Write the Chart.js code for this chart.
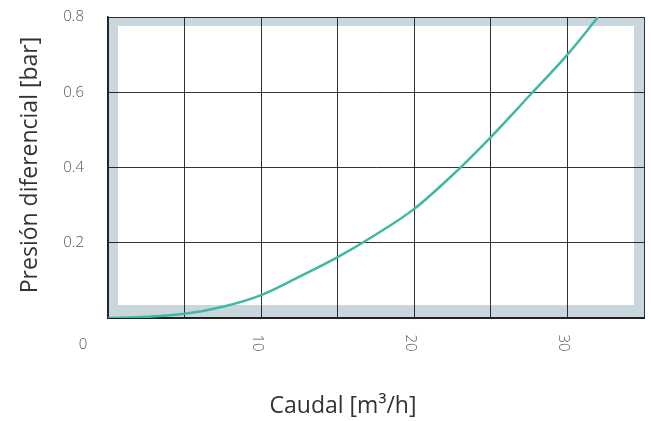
<!DOCTYPE html>
<html>
<head>
<meta charset="utf-8">
<script src="https://cdn.jsdelivr.net/npm/chart.js@4/dist/chart.umd.min.js"></script>
<style>
  html, body { margin: 0; padding: 0; background: #fff; }
  #wrap { width: 651px; height: 421px; }
</style>
</head>
<body>
<div id="wrap"><canvas id="chart" width="651" height="421"></canvas></div>
<script>
// Curva de presión diferencial vs caudal
const caudal  = [0, 2.5, 5, 7.5, 10, 12.5, 15, 17.5, 20, 22.5, 25, 27.5, 30, 32];
const presion = [0, 0.003, 0.011, 0.03, 0.061, 0.11, 0.162, 0.222, 0.29, 0.38, 0.481, 0.59, 0.70, 0.80];
const xTicks  = [10, 20, 30];
const yTicks  = [0.2, 0.4, 0.6, 0.8];

const FONT = '"Open Sans", Lato, sans-serif';

// Banda gris-azulada dentro del área del gráfico
const bandPlugin = {
  id: 'band',
  beforeDraw(chart) {
    const { ctx, chartArea: a } = chart;
    ctx.save();
    ctx.fillStyle = '#c9d6de';
    ctx.fillRect(a.left, a.top, a.right - a.left, a.bottom - a.top);
    ctx.fillStyle = '#ffffff';
    ctx.fillRect(a.left + 10, a.top + 9, a.right - a.left - 20, a.bottom - a.top - 22);
    ctx.restore();
  }
};

// Etiquetas del eje X (giradas) y títulos
const labelsPlugin = {
  id: 'labels',
  afterDraw(chart) {
    const { ctx, chartArea: a } = chart;
    const xs = chart.scales.x;
    ctx.save();
    ctx.fillStyle = '#555';
    ctx.font = '300 15px ' + FONT;
    ctx.textAlign = 'center';
    ctx.textBaseline = 'middle';
    ctx.fillText('0', a.left - 25, a.bottom + 27);
    xTicks.forEach(v => {
      const px = xs.getPixelForValue(v);
      ctx.save();
      ctx.translate(px - 4, a.bottom + 25);
      ctx.rotate(Math.PI / 2);
      ctx.fillText(String(v), 0, 0);
      ctx.restore();
    });

    ctx.fillStyle = '#333';
    ctx.font = '23px ' + FONT;
    ctx.fillText('Caudal [m\u00B3/h]', 343, 406);
    ctx.save();
    ctx.translate(30, 165);
    ctx.rotate(-Math.PI / 2);
    ctx.fillText('Presión diferencial [bar]', 0, 0);
    ctx.restore();
    ctx.restore();
  }
};

new Chart(document.getElementById('chart'), {
  type: 'scatter',
  data: {
    datasets: [{
      data: caudal.map((x, i) => ({ x, y: presion[i] })),
      showLine: true,
      borderColor: '#3fb9a1',
      borderWidth: 2.5,
      pointRadius: 0,
      cubicInterpolationMode: 'monotone',
      fill: false
    }]
  },
  options: {
    responsive: false,
    animation: false,
    layout: { padding: { top: 17, right: 7, left: 0, bottom: 0 } },
    plugins: { legend: { display: false }, tooltip: { enabled: false } },
    scales: {
      x: {
        type: 'linear', min: 0, max: 35,
        ticks: { stepSize: 5, display: false },
        grid: { color: 'rgba(0,0,0,0.8)', lineWidth: 1, drawTicks: false },
        border: { color: '#222', width: 2 },
        afterFit: s => { s.height = 103; s.paddingLeft = 0; s.paddingRight = 0; }
      },
      y: {
        min: 0, max: 0.8,
        afterBuildTicks: s => { s.ticks = [0].concat(yTicks).map(v => ({ value: v })); },
        ticks: {
          padding: 24,
          color: '#555',
          font: { family: FONT, size: 15, weight: '300' },
          callback: v => v === 0 ? '' : v.toFixed(1)
        },
        grid: { color: 'rgba(0,0,0,0.8)', lineWidth: 1, drawTicks: false },
        border: { color: '#222', width: 1.5 },
        afterFit: s => { s.width = 108; s.paddingTop = 0; s.paddingBottom = 0; }
      }
    }
  },
  plugins: [bandPlugin, labelsPlugin]
});
</script>
</body>
</html>
